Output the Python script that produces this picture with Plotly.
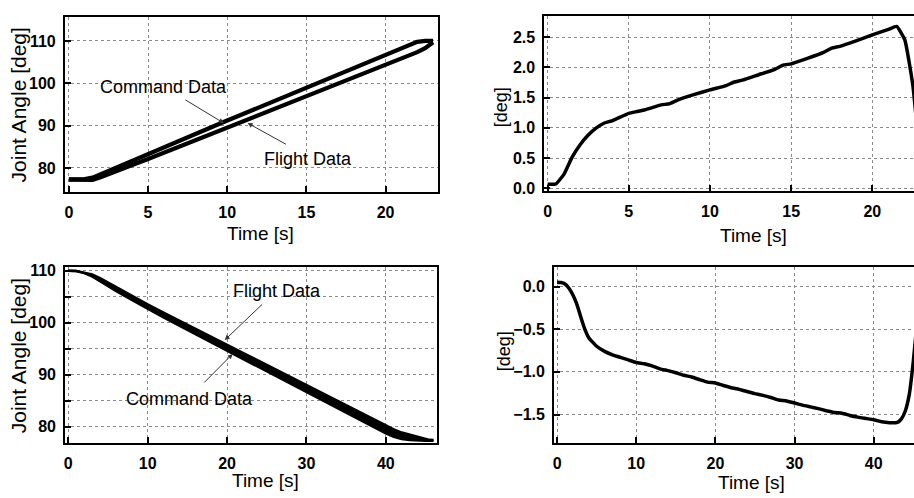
import plotly.graph_objects as go

# ---------------- data ----------------
# Upper pair: joint angle (command vs flight) and their difference
t_up = [0, 0.5, 1, 1.5, 2, 2.5, 3, 4, 5, 6, 7, 8, 9, 10, 11, 12, 13, 14, 15,
        16, 17, 18, 19, 20, 21, 21.5, 22, 22.5, 23]
cmd_up = [77.3, 77.3, 77.35, 77.7, 78.5, 79.45, 80.25, 81.8, 83.35, 84.9, 86.5,
          88.05, 89.6, 91.2, 92.75, 94.3, 95.9, 97.45, 99.0, 100.6, 102.15,
          103.7, 105.3, 106.85, 108.4, 109.2, 109.8, 110.0, 110.0]
flt_up = [77.24, 77.23, 77.12, 77.19, 77.78, 78.57, 79.25, 80.68, 82.11, 83.6,
          85.12, 86.59, 88.05, 89.57, 91.05, 92.51, 94.02, 95.48, 96.94, 98.45,
          99.9, 101.35, 102.86, 104.31, 105.77, 106.52, 107.34, 108.3, 109.7]

t_dup = [0, 0.5, 1, 1.5, 2, 2.5, 3, 3.5, 4, 5, 5.5, 6, 7, 7.5, 8, 9, 10, 11,
         11.5, 12, 13, 14, 14.5, 15, 16, 17, 17.5, 18, 19, 20, 21, 21.5, 22,
         22.5, 23]
d_up = [0.065, 0.07, 0.23, 0.51, 0.72, 0.88, 1.0, 1.08, 1.12, 1.24, 1.27, 1.30,
        1.38, 1.40, 1.46, 1.55, 1.63, 1.70, 1.76, 1.79, 1.88, 1.97, 2.04, 2.06,
        2.15, 2.25, 2.32, 2.35, 2.44, 2.54, 2.63, 2.68, 2.46, 1.70, 0.3]

# Lower pair
t_dn = [0, 1, 2, 3, 4, 5, 6, 8, 10, 12, 15, 18, 20, 22, 25, 28, 30, 32, 35,
        38, 40, 41, 42, 43, 44, 44.5, 45, 45.5, 46]
cmd_dn = [110.0, 109.95, 109.55, 108.92, 108.0, 107.05, 106.12, 104.38, 102.65,
          101.03, 98.6, 96.2, 94.63, 93.0, 90.62, 88.23, 86.62, 85.05, 82.66,
          80.23, 78.72, 78.05, 77.6, 77.4, 77.3, 77.3, 77.3, 77.3, 77.3]
flt_dn = [110.0, 109.95, 109.65, 109.28, 108.6, 107.75, 106.88, 105.22, 103.55,
          101.97, 99.6, 97.3, 95.77, 94.2, 91.88, 89.57, 87.98, 86.45, 84.14,
          81.77, 80.2, 79.45, 78.85, 78.45, 78.1, 77.85, 77.6, 77.45, 77.4]

t_ddn = [0, 0.5, 1, 1.5, 2, 2.5, 3, 3.5, 4, 5, 6, 7, 8, 9, 10, 11, 12, 13, 14,
         15, 16, 17, 18, 19, 20, 21, 22, 23, 24, 25, 26, 27, 28, 29, 30, 31,
         32, 33, 34, 35, 36, 37, 38, 39, 40, 41, 42, 43, 43.5, 44, 44.5, 45, 45.5]
d_dn = [0.05, 0.046, 0.03, -0.02, -0.1, -0.21, -0.36, -0.5, -0.6, -0.7, -0.76,
        -0.8, -0.83, -0.86, -0.89, -0.905, -0.93, -0.965, -0.985, -1.01, -1.04,
        -1.06, -1.09, -1.12, -1.13, -1.16, -1.185, -1.205, -1.23, -1.255,
        -1.275, -1.3, -1.33, -1.34, -1.365, -1.39, -1.41, -1.43, -1.455,
        -1.475, -1.485, -1.51, -1.53, -1.545, -1.56, -1.585, -1.595, -1.59,
        -1.55, -1.455, -1.26, -0.88, -0.4]

# tick labels
xt_up = [0, 5, 10, 15, 20]
yt_ul = [80, 90, 100, 110]
yt_ur = [0.0, 0.5, 1.0, 1.5, 2.0, 2.5]
xt_dn = [0, 10, 20, 30, 40]
yt_ll = [80, 85, 90, 95, 100, 105, 110]
yt_ll_text = ["80", "", "90", "", "100", "", "110"]
yt_lr = [-1.5, -1.0, -0.5, 0.0]

# ---------------- figure ----------------
W, H = 914, 498


def px(x, y):
    return x / W, 1 - y / H


LINE = "black"
fig = go.Figure()

# top-left
fig.add_trace(go.Scatter(x=t_up, y=cmd_up, mode="lines", xaxis="x", yaxis="y",
                         line=dict(color=LINE, width=4.2), name="Command Data"))
fig.add_trace(go.Scatter(x=t_up, y=flt_up, mode="lines", xaxis="x", yaxis="y",
                         line=dict(color=LINE, width=4.2), name="Flight Data"))
# top-right
fig.add_trace(go.Scatter(x=t_dup, y=d_up, mode="lines", xaxis="x2", yaxis="y2",
                         line=dict(color=LINE, width=3.5, shape="spline", smoothing=0.4),
                         name="diff"))
# bottom-left (band)
fig.add_trace(go.Scatter(x=t_dn, y=cmd_dn, mode="lines", xaxis="x3", yaxis="y3",
                         line=dict(color=LINE, width=2.5), name="Command Data"))
fig.add_trace(go.Scatter(x=t_dn, y=flt_dn, mode="lines", xaxis="x3", yaxis="y3",
                         line=dict(color=LINE, width=2.5), fill="tonexty",
                         fillcolor="black", name="Flight Data"))
# bottom-right
fig.add_trace(go.Scatter(x=t_ddn, y=d_dn, mode="lines", xaxis="x4", yaxis="y4",
                         line=dict(color=LINE, width=3.5, shape="spline", smoothing=0.4),
                         name="diff"))

tickfont = dict(family="Liberation Sans, Arial, sans-serif", size=16,
                color="black", weight="bold")


def ax(**kw):
    d = dict(showline=True, linecolor="black", linewidth=2, mirror=True,
             ticks="inside", ticklen=6, tickwidth=2, tickcolor="black",
             showgrid=True, gridcolor="#8a8a8a", griddash="dot", gridwidth=1,
             zeroline=False, tickfont=tickfont, fixedrange=True)
    d.update(kw)
    return d


fig.update_layout(
    width=W, height=H, margin=dict(l=0, r=0, t=0, b=0),
    paper_bgcolor="white", plot_bgcolor="white", showlegend=False,
    xaxis=ax(domain=[64 / W, 437 / W], range=[-0.25, 23.28], tickvals=xt_up,
             anchor="y", ticklabelstandoff=5),
    yaxis=ax(domain=[1 - 192 / H, 1 - 13 / H], range=[74.28, 115.72],
             tickvals=yt_ul, anchor="x", ticklabelstandoff=4),
    xaxis2=ax(domain=[544 / W, 1.0], range=[-0.2, 22.57], tickvals=xt_up,
              anchor="y2", ticklabelstandoff=5),
    yaxis2=ax(domain=[1 - 191 / H, 1 - 12.3 / H], range=[-0.049, 2.852],
              tickvals=yt_ur, tickformat=".1f", anchor="x2", mirror=False,
              ticklabelstandoff=4),
    xaxis3=ax(domain=[64.3 / W, 436.7 / W], range=[-0.38, 46.47],
              tickvals=xt_dn, anchor="y3", ticklabelstandoff=5),
    yaxis3=ax(domain=[1 - 447.7 / H, 1 - 268.3 / H], range=[76.9, 110.75],
              tickvals=yt_ll, ticktext=yt_ll_text, anchor="x3",
              ticklabelstandoff=4),
    xaxis4=ax(domain=[553.7 / W, 1.0], range=[-0.38, 45.09], tickvals=xt_dn,
              anchor="y4", ticklabelstandoff=5),
    yaxis4=ax(domain=[1 - 447.7 / H, 1 - 268.3 / H], range=[-1.8295, 0.2295],
              tickvals=yt_lr, tickformat=".1f", anchor="x4", mirror=False,
              ticklabelstandoff=4),
)

title_font = dict(family="Liberation Sans, Arial, sans-serif", size=19, color="black")
ylab_font = dict(family="Liberation Sans, Arial, sans-serif", size=21, color="black")
deg_font = dict(family="Liberation Sans, Arial, sans-serif", size=18, color="black")
note_font = dict(family="Liberation Sans, Arial, sans-serif", size=18, color="black")

anns = []


def text_ann(x, y, text, font, angle=0):
    xp, yp = px(x, y)
    anns.append(dict(x=xp, y=yp, xref="paper", yref="paper", text=text,
                     showarrow=False, font=font, textangle=angle,
                     xanchor="center", yanchor="middle"))


text_ann(17.5, 103, "Joint Angle [deg]", ylab_font, -90)
text_ann(260, 234, "Time [s]", title_font)
text_ann(500, 105, "[deg]", deg_font, -90)
text_ann(753, 236, "Time [s]", title_font)
text_ann(17.5, 359, "Joint Angle [deg]", ylab_font, -90)
text_ann(265, 486, "Time [s]", title_font)
text_ann(503, 354, "[deg]", deg_font, -90)
text_ann(751, 488, "Time [s]", title_font)

text_ann(163, 85, "Command Data", note_font)
text_ann(307, 158, "Flight Data", note_font)
text_ann(276, 293, "Flight Data", note_font)
text_ann(189, 403, "Command Data", note_font)


def arrow(xr, yr, hx, hy, tx, ty):
    anns.append(dict(x=hx, y=hy, ax=tx, ay=ty, xref=xr, yref=yr, axref=xr,
                     ayref=yr, text="", showarrow=True, arrowhead=2,
                     arrowsize=1, arrowwidth=1, arrowcolor="#333"))


arrow("x", "y", 9.78, 90.6, 7.26, 96.3)
arrow("x", "y", 11.29, 90.6, 13.8, 85.4)
arrow("x3", "y3", 19.71, 96.66, 24.6, 103.8)
arrow("x3", "y3", 20.7, 94.0, 16.94, 88.2)

fig.update_layout(annotations=anns)
fig.write_html(
    "out.html",
    config={"displayModeBar": False},
    post_script="document.body.style.margin='0';document.body.style.padding='0';"
                "document.body.style.overflow='hidden';",
)
